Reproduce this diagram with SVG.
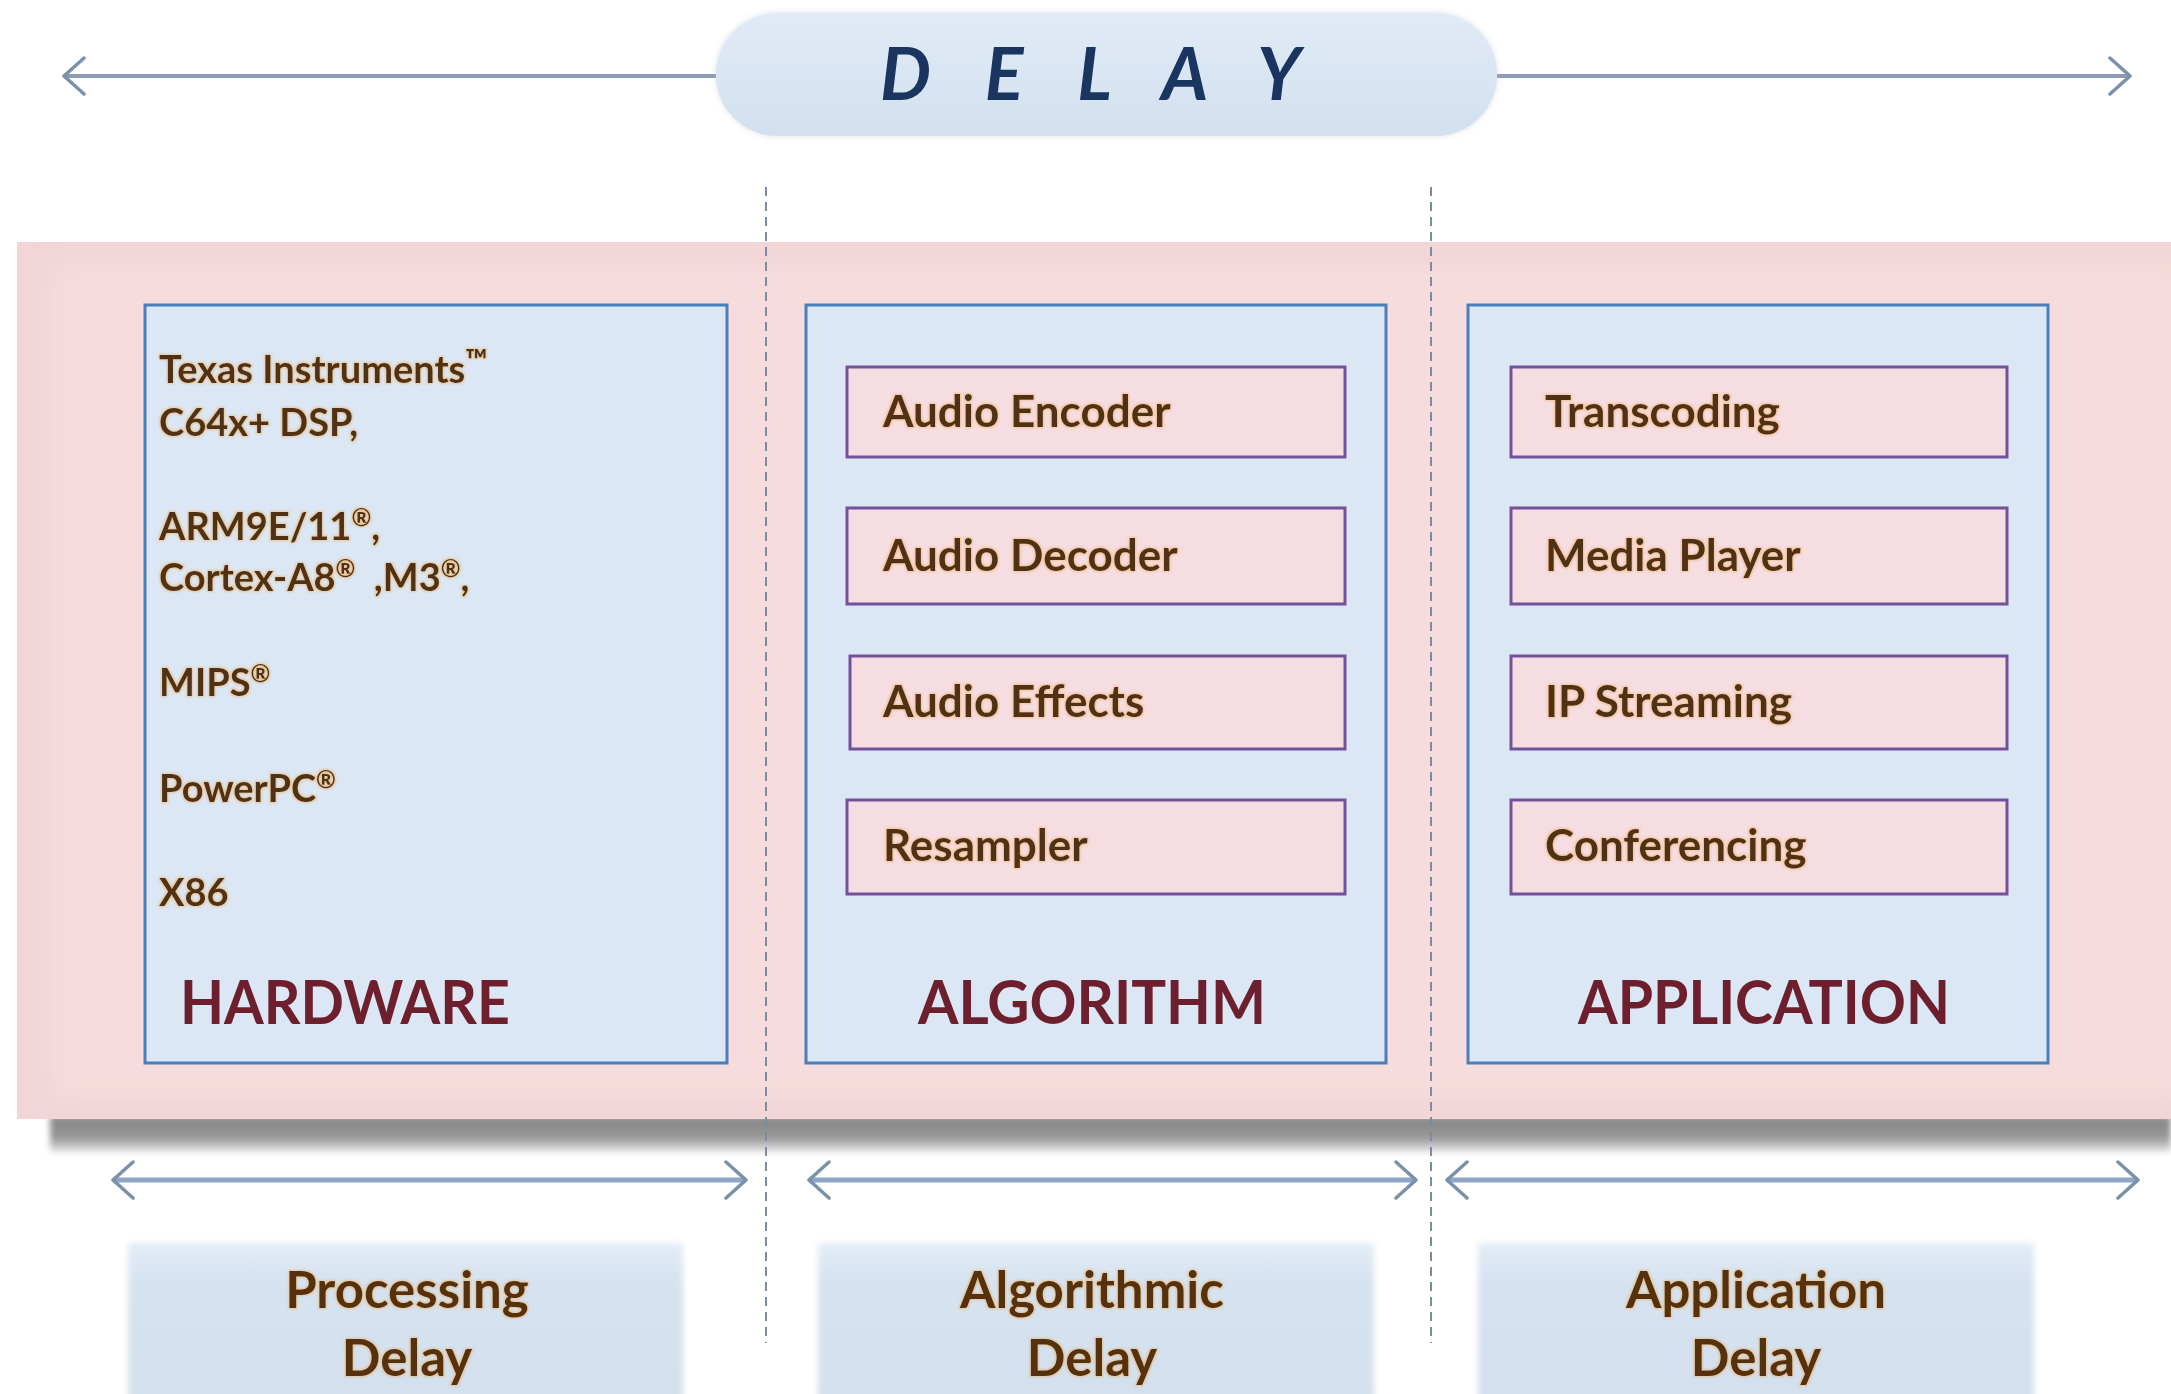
<svg xmlns="http://www.w3.org/2000/svg" width="2171" height="1394" viewBox="0 0 2171 1394">
  <defs>
    <style>
      .panel-box { fill: #dbe7f4; stroke: #4a7fba; stroke-width: 3; }
      .item-box { fill: #f6dde2; stroke: #74509a; stroke-width: 3; }
      .item { font-family: Lato, "Liberation Sans", sans-serif; font-weight: 700; font-size: 44px; fill: #4f3217; }
      .hw { font-family: Lato, "Liberation Sans", sans-serif; font-weight: 700; font-size: 38px; fill: #4f3217; white-space: pre; }
      .sup { font-size: 24px; }
      .tm { font-size: 30px; }
      .heading { font-family: Lato, "Liberation Sans", sans-serif; font-weight: 700; font-size: 62px; fill: #6e1f2e; }
      .delay-label { font-family: Lato, "Liberation Sans", sans-serif; font-weight: 700; font-size: 51px; fill: #55330f; text-anchor: middle; }
      .span-line { stroke: #8ea6c6; stroke-width: 5; fill: none; }
      .top-line { stroke: #8c9cb3; stroke-width: 4; fill: none; }
      .divider { stroke: #7a8ca0; stroke-width: 2; stroke-dasharray: 9 6; fill: none; }
      .label-box { fill: url(#labelFill); }
    </style>
    <marker id="chev" viewBox="0 0 26 40" refX="23" refY="20" markerWidth="26" markerHeight="40" markerUnits="userSpaceOnUse" orient="auto-start-reverse">
      <path d="M3,2 L23,20 L3,38" fill="none" stroke="#7b91aa" stroke-width="3.5" stroke-linejoin="round" stroke-linecap="round"/>
    </marker>
    <linearGradient id="pillFill" x1="0" y1="0" x2="0" y2="1">
      <stop offset="0" stop-color="#e1ebf6"/>
      <stop offset="1" stop-color="#d2e0ef"/>
    </linearGradient>
    <linearGradient id="shadowFill" x1="0" y1="0" x2="0" y2="1">
      <stop offset="0" stop-color="#858585"/>
      <stop offset="0.6" stop-color="#989898"/>
      <stop offset="1" stop-color="#e4e4e4"/>
    </linearGradient>
    <linearGradient id="labelFill" x1="0" y1="0" x2="0" y2="1">
      <stop offset="0" stop-color="#e3ecf6"/>
      <stop offset="0.25" stop-color="#d5e2f0"/>
      <stop offset="1" stop-color="#d3e0ee"/>
    </linearGradient>
    <filter id="soft" x="-5%" y="-20%" width="110%" height="140%">
      <feGaussianBlur stdDeviation="3"/>
    </filter>
    <filter id="haze" x="-5%" y="-5%" width="110%" height="110%">
      <feGaussianBlur stdDeviation="10"/>
    </filter>
    <filter id="glow" x="-10%" y="-30%" width="120%" height="160%">
      <feMorphology in="SourceAlpha" operator="dilate" radius="1" result="d"/>
      <feGaussianBlur in="d" stdDeviation="1.2" result="b"/>
      <feFlood flood-color="#eea955" flood-opacity="0.55"/>
      <feComposite in2="b" operator="in" result="g"/>
      <feMerge><feMergeNode in="g"/><feMergeNode in="SourceGraphic"/></feMerge>
    </filter>
  </defs>

  <rect width="2171" height="1394" fill="#ffffff"/>

  <!-- backdrop panel with its drop shadow -->
  <g id="backdrop">
    <rect x="50" y="1116" width="2121" height="36" fill="url(#shadowFill)" filter="url(#soft)"/>
    <rect x="17" y="242" width="2160" height="877" fill="#f2d5d6"/>
    <rect x="50" y="265" width="2140" height="835" fill="#f6dcdc" filter="url(#haze)"/>
  </g>

  <!-- connectors: delay spans and section dividers -->
  <g id="connectors">
    <line class="top-line" x1="64" y1="76" x2="716" y2="76" marker-start="url(#chev)"/>
    <line class="top-line" x1="1497" y1="76" x2="2130" y2="76" marker-end="url(#chev)"/>
    <line class="divider" x1="766" y1="187" x2="766" y2="1343"/>
    <line class="divider" x1="1431" y1="187" x2="1431" y2="1343"/>
    <line class="span-line" x1="113" y1="1180" x2="746" y2="1180" marker-start="url(#chev)" marker-end="url(#chev)"/>
    <line class="span-line" x1="809" y1="1180" x2="1416" y2="1180" marker-start="url(#chev)" marker-end="url(#chev)"/>
    <line class="span-line" x1="1447" y1="1180" x2="2138" y2="1180" marker-start="url(#chev)" marker-end="url(#chev)"/>
  </g>

  <!-- overall delay title -->
  <g id="delay">
    <rect x="716" y="13" width="781" height="123" rx="61.5" fill="#b9c4d0" opacity="0.5" filter="url(#soft)"/>
    <rect x="716" y="13" width="781" height="123" rx="61.5" fill="url(#pillFill)"/>
    <text x="880" y="100" font-family="Lato, 'Liberation Sans', sans-serif" font-weight="700" font-style="italic" font-size="72" letter-spacing="19" fill="#1a3560">D E L A Y</text>
  </g>

  <!-- hardware column -->
  <g id="hardware">
    <rect class="panel-box" x="145" y="305" width="582" height="758"/>
    <g filter="url(#glow)">
      <text class="hw" x="159" y="383">Texas Instruments<tspan class="tm" dy="-12">™</tspan></text>
      <text class="hw" x="159" y="436">C64x+ DSP,</text>
      <text class="hw" x="159" y="540">ARM9E/11<tspan class="sup" dy="-14">®</tspan><tspan dy="14">,</tspan></text>
      <text class="hw" x="159" y="591">Cortex-A8<tspan class="sup" dy="-14">®</tspan><tspan dy="14">  ,M3</tspan><tspan class="sup" dy="-14">®</tspan><tspan dy="14">,</tspan></text>
      <text class="hw" x="159" y="696">MIPS<tspan class="sup" dy="-14">®</tspan></text>
      <text class="hw" x="159" y="802">PowerPC<tspan class="sup" dy="-14">®</tspan></text>
      <text class="hw" x="159" y="906">X86</text>
    </g>
    <text class="heading" x="180" y="1024" textLength="330" lengthAdjust="spacingAndGlyphs">HARDWARE</text>
  </g>

  <!-- algorithm column -->
  <g id="algorithm">
    <rect class="panel-box" x="806" y="305" width="580" height="758"/>
    <g id="audio-encoder">
      <rect class="item-box" x="847" y="367" width="498" height="90"/>
      <text class="item" x="883" y="427" filter="url(#glow)">Audio Encoder</text>
    </g>
    <g id="audio-decoder">
      <rect class="item-box" x="847" y="508" width="498" height="96"/>
      <text class="item" x="883" y="571" filter="url(#glow)">Audio Decoder</text>
    </g>
    <g id="audio-effects">
      <rect class="item-box" x="850" y="656" width="495" height="93"/>
      <text class="item" x="883" y="717" filter="url(#glow)">Audio Effects</text>
    </g>
    <g id="resampler">
      <rect class="item-box" x="847" y="800" width="498" height="94"/>
      <text class="item" x="883" y="861" filter="url(#glow)">Resampler</text>
    </g>
    <text class="heading" x="918" y="1024" textLength="348" lengthAdjust="spacingAndGlyphs">ALGORITHM</text>
  </g>

  <!-- application column -->
  <g id="application">
    <rect class="panel-box" x="1468" y="305" width="580" height="758"/>
    <g id="transcoding">
      <rect class="item-box" x="1511" y="367" width="496" height="90"/>
      <text class="item" x="1545" y="427" filter="url(#glow)">Transcoding</text>
    </g>
    <g id="media-player">
      <rect class="item-box" x="1511" y="508" width="496" height="96"/>
      <text class="item" x="1545" y="571" filter="url(#glow)">Media Player</text>
    </g>
    <g id="ip-streaming">
      <rect class="item-box" x="1511" y="656" width="496" height="93"/>
      <text class="item" x="1545" y="717" filter="url(#glow)">IP Streaming</text>
    </g>
    <g id="conferencing">
      <rect class="item-box" x="1511" y="800" width="496" height="94"/>
      <text class="item" x="1545" y="861" filter="url(#glow)">Conferencing</text>
    </g>
    <text class="heading" x="1578" y="1024" textLength="372" lengthAdjust="spacingAndGlyphs">APPLICATION</text>
  </g>

  <!-- delay categories -->
  <g id="processing-delay">
    <rect class="label-box" x="128" y="1243" width="555" height="160" filter="url(#soft)"/>
    <text class="delay-label" x="407" y="1308" filter="url(#glow)">Processing</text>
    <text class="delay-label" x="407" y="1376" filter="url(#glow)">Delay</text>
  </g>
  <g id="algorithmic-delay">
    <rect class="label-box" x="818" y="1243" width="556" height="160" filter="url(#soft)"/>
    <text class="delay-label" x="1092" y="1308" filter="url(#glow)">Algorithmic</text>
    <text class="delay-label" x="1092" y="1376" filter="url(#glow)">Delay</text>
  </g>
  <g id="application-delay">
    <rect class="label-box" x="1478" y="1243" width="556" height="160" filter="url(#soft)"/>
    <text class="delay-label" x="1756" y="1308" filter="url(#glow)">Application</text>
    <text class="delay-label" x="1756" y="1376" filter="url(#glow)">Delay</text>
  </g>
</svg>
